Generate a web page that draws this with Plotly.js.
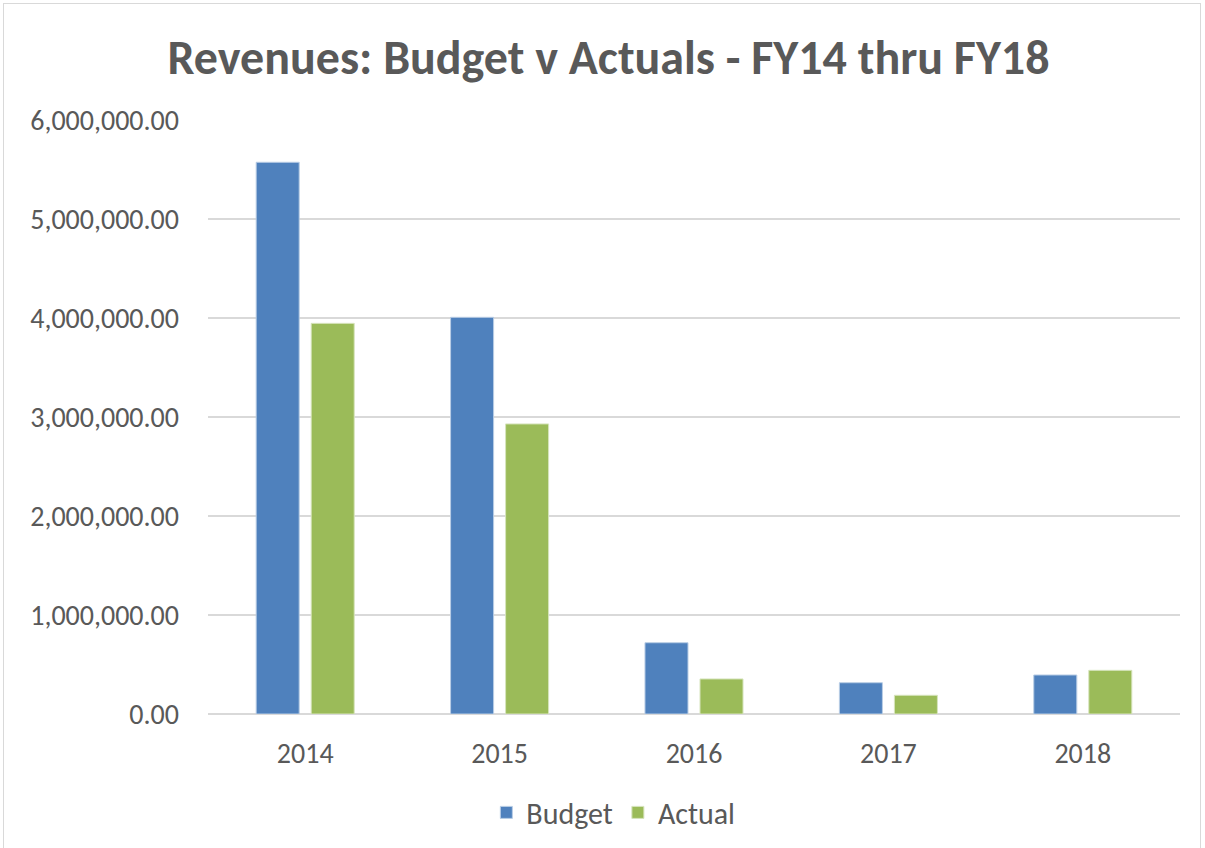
<!DOCTYPE html>
<html>
<head>
<meta charset="utf-8">
<script src="https://cdn.plot.ly/plotly-3.0.1.min.js"></script>
<style>
  body { margin: 0; padding: 0; background: #ffffff; overflow: hidden; }
  #frame { position: absolute; left: 3px; top: 3px; width: 1196px; height: 860px; border: 1px solid #d9d9d9; }
  #chart { position: absolute; left: 0; top: 0; width: 1205px; height: 848px; }
</style>
</head>
<body>
<div id="frame"></div>
<div id="chart"></div>
<script>
// fiscal years on the x axis
var years = ['2014', '2015', '2016', '2017', '2018'];
// revenue values
var budget = [5573000, 4007000, 720000, 316000, 394000];
var actual = [3946000, 2930000, 354000, 189000, 441000];
var yTicks = [0, 1000000, 2000000, 3000000, 4000000, 5000000, 6000000];

var txt = '#595959';
var fnt = 'Carlito, "Open Sans", sans-serif';

var trace1 = {
  x: years,
  y: budget,
  type: 'bar',
  name: 'Budget',
  marker: { color: '#4f81bd', line: { color: '#b9cde5', width: 1 } },
  hoverinfo: 'x+y'
};

var trace2 = {
  x: years,
  y: actual,
  type: 'bar',
  name: 'Actual',
  marker: { color: '#9bbb59', line: { color: '#d7e4bd', width: 1 } },
  hoverinfo: 'x+y'
};

var layout = {
  width: 1205,
  height: 848,
  paper_bgcolor: 'rgba(0,0,0,0)',
  plot_bgcolor: '#ffffff',
  margin: { l: 208, r: 25, t: 120, b: 134 },
  barmode: 'group',
  bargap: 0.434,
  bargroupgap: 0.218,
  title: {
    text: '<b>Revenues: Budget v Actuals - FY14 thru FY18</b>',
    font: { family: fnt, size: 48, color: txt },
    xref: 'container', x: 0.505, xanchor: 'center',
    yref: 'container', y: 0.933, yanchor: 'middle'
  },
  xaxis: {
    type: 'category',
    showgrid: false,
    showline: false,
    ticks: '',
    tickfont: { family: fnt, size: 28, color: txt },
    ticklabelstandoff: 20
  },
  yaxis: {
    range: [0, 6000000],
    tickvals: yTicks,
    tickformat: ',.2f',
    showgrid: true,
    gridcolor: '#d9d9d9',
    gridwidth: 1.5,
    zeroline: true,
    zerolinecolor: '#d9d9d9',
    zerolinewidth: 2,
    showline: false,
    ticks: '',
    tickfont: { family: fnt, size: 28, color: txt },
    ticklabelstandoff: 28
  },
  showlegend: true,
  legend: {
    orientation: 'h',
    xref: 'container', x: 0.509, xanchor: 'center',
    yref: 'container', y: 0.042, yanchor: 'middle',
    font: { family: fnt, size: 30, color: txt },
    itemwidth: 30,
    traceorder: 'normal'
  }
};

Plotly.newPlot('chart', [trace1, trace2], layout, { displayModeBar: false, staticPlot: true });
</script>
</body>
</html>
